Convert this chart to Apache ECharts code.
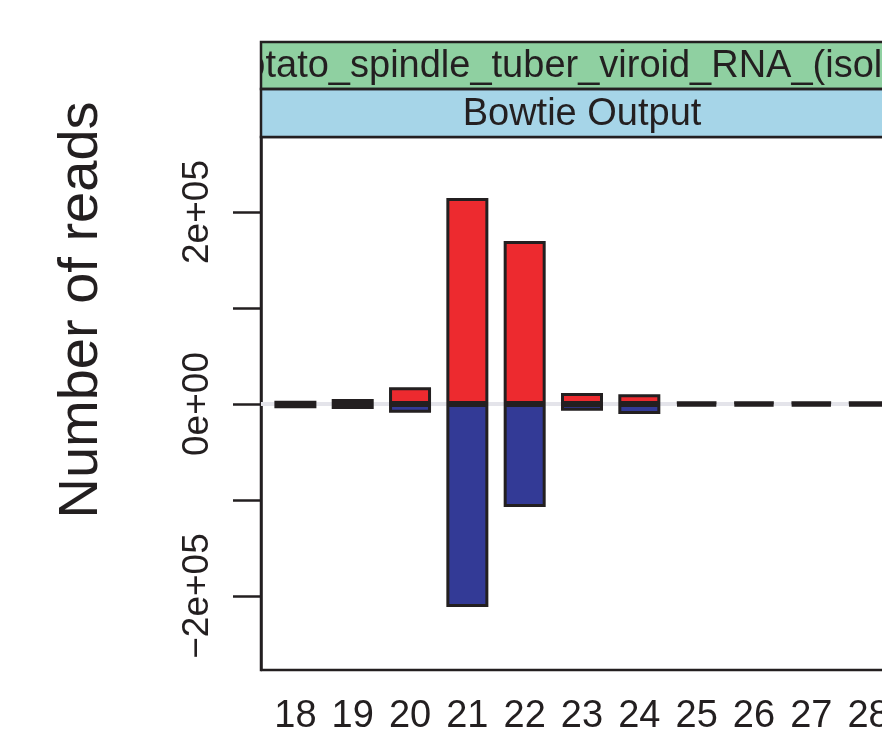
<!DOCTYPE html>
<html>
<head>
<meta charset="utf-8">
<script src="https://cdn.jsdelivr.net/npm/echarts@6/dist/echarts.min.js"></script>
<style>
  html, body { margin: 0; padding: 0; background: #fff; }
  #chart { width: 882px; height: 746px; }
</style>
</head>
<body>
<div id="chart"></div>
<script>
// read lengths (nt) and read counts, sense (+) and antisense (-)
const readLengths = [18, 19, 20, 21, 22, 23, 24, 25, 26, 27, 28]
const senseReads = [3400, 5200, 17400, 214500, 169800, 11500, 10100, 2400, 2400, 2400, 2400]
const antisenseReads = [-4500, -5200, -9000, -211500, -107300, -7000, -10400, -2800, -2800, -2800, -2800]
const yTicks = [-200000, -100000, 0, 100000, 200000]
const yLabels = [-200000, 0, 200000]

const stripTop = 'Potato_spindle_tuber_viroid_RNA_(isolate)'
const stripBottom = 'Bowtie Output'

const font = '"Liberation Sans", Arial, Helvetica, sans-serif'
const ink = '#231f20'

// panel box (right edge runs past the window, as in the original)
const panel = { left: 261, right: 903, top: 137, bottom: 670 }

function sci(v) {
  if (v === 0) return '0e+00'
  const e = Math.floor(Math.log10(Math.abs(v)))
  const m = Math.round(v / Math.pow(10, e))
  return (m < 0 ? '\u2212' : '') + Math.abs(m) + 'e+' + String(e).padStart(2, '0')
}

const chart = echarts.init(document.getElementById('chart'))

const barStyle = (color) => ({ color, borderColor: ink, borderWidth: 3 })

chart.setOption({
  backgroundColor: '#fff',
  animation: false,
  grid: {
    left: panel.left,
    top: panel.top,
    width: panel.right - panel.left,
    height: panel.bottom - panel.top,
    outerBoundsMode: 'none',
    containLabel: false,
    show: true,
    borderColor: ink,
    borderWidth: 2.5,
    backgroundColor: 'transparent',
  },
  xAxis: {
    type: 'value',
    min: 17.4,
    max: 28.6,
    axisLine: { show: false },
    axisTick: { show: false },
    splitLine: { show: false },
    axisLabel: {
      customValues: readLengths,
      color: ink,
      fontFamily: font,
      fontSize: 38,
      margin: 28,
    },
  },
  yAxis: {
    type: 'value',
    min: -277083,
    max: 278125,
    splitLine: { show: false },
    axisLine: { show: true, lineStyle: { color: ink, width: 2.5 } },
    axisTick: { show: true, customValues: yTicks, length: 28, lineStyle: { color: ink, width: 2.5 } },
    axisLabel: {
      customValues: yLabels,
      rotate: 90,
      color: ink,
      fontFamily: font,
      fontSize: 37,
      margin: 45,
      formatter: (v) => sci(v),
    },
  },
  series: [
    {
      type: 'line',
      data: [],
      z: 1,
      markLine: {
        silent: true,
        z: 1,
        symbol: 'none',
        label: { show: false },
        lineStyle: { color: '#e4e4ea', width: 4, type: 'solid' },
        data: [{ yAxis: 0 }],
      },
    },
    {
      name: 'sense',
      type: 'bar',
      z: 3,
      barWidth: 42,
      barGap: '-100%',
      itemStyle: barStyle('#ed2a2f'),
      data: readLengths.map((l, i) => [l, senseReads[i]]),
    },
    {
      name: 'antisense',
      type: 'bar',
      z: 3,
      barWidth: 42,
      barGap: '-100%',
      itemStyle: barStyle('#333a96'),
      data: readLengths.map((l, i) => [l, antisenseReads[i]]),
    },
  ],
  graphic: [
    {
      type: 'rect', z: 10,
      shape: { x: panel.left, y: 42, width: panel.right - panel.left, height: 47 },
      style: { fill: '#8fd0a1', stroke: null },
    },
    {
      type: 'text', z: 11,
      x: 219, y: 67,
      style: { text: stripTop, font: '38px ' + font, fill: ink, textAlign: 'left', textVerticalAlign: 'middle' },
    },
    {
      // hides the strip text that spills left of the panel
      type: 'rect', z: 12,
      shape: { x: 0, y: 38, width: panel.left, height: 54 },
      style: { fill: '#fff' },
    },
    {
      type: 'rect', z: 10,
      shape: { x: panel.left, y: 89, width: panel.right - panel.left, height: 48 },
      style: { fill: '#a6d5e8', stroke: null },
    },
    {
      type: 'text', z: 11,
      x: (panel.left + panel.right) / 2, y: 115,
      style: { text: stripBottom, font: '38px ' + font, fill: ink, textAlign: 'center', textVerticalAlign: 'middle' },
    },
    {
      type: 'rect', z: 13,
      shape: { x: panel.left, y: 42, width: panel.right - panel.left, height: 47 },
      style: { fill: 'none', stroke: ink, lineWidth: 2.5 },
    },
    {
      type: 'rect', z: 13,
      shape: { x: panel.left, y: 89, width: panel.right - panel.left, height: 48 },
      style: { fill: 'none', stroke: ink, lineWidth: 2.5 },
    },
    {
      type: 'text', z: 11,
      x: 82, y: 310, rotation: Math.PI / 2,
      style: { text: 'Number of reads', font: '56px ' + font, fill: ink, textAlign: 'center', textVerticalAlign: 'middle' },
    },
  ],
})
</script>
</body>
</html>
